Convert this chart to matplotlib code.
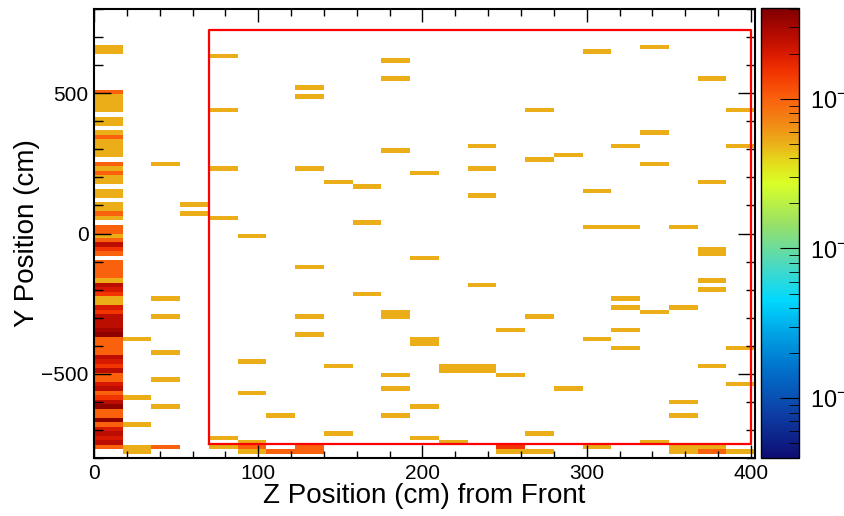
import numpy as np
import matplotlib
matplotlib.use("Agg")
import matplotlib.pyplot as plt
from matplotlib.colors import LogNorm, LinearSegmentedColormap
from matplotlib.ticker import MultipleLocator, LogLocator, FixedLocator

plt.rcParams['font.family'] = ['Liberation Sans', 'DejaVu Sans']
plt.rcParams['mathtext.default'] = 'regular'

# binning of the histogram
n_layers = 23
z_max = 402.5
n_ybins = 100
y_min, y_max = -800, 800
unit = 0.00505          # weight of a single hit
z_min_norm = 10 ** -4.4
fid_z = (70, 400)       # fiducial box
fid_y = (-750, 725)

# layer 0 (front): hit counts per y-bin, starting at the bottom bin
layer0_counts = [0, 0, 2, 5, 4, 5, 4, 2, 7, 2,
                 2, 7, 5, 3, 2, 5, 4, 2, 2, 5,
                 3, 4, 5, 2, 2, 2, 2, 7, 6, 5,
                 5, 5, 3, 4, 1, 1, 3, 4, 5, 1,
                 2, 2, 2, 2, 0, 2, 3, 5, 2, 1,
                 2, 2, 0, 1, 2, 1, 1, 0, 1, 1,
                 0, 1, 1, 2, 1, 2, 0, 1, 1, 1,
                 1, 2, 1, 0, 1, 1, 0, 1, 1, 1,
                 1, 2, 0, 0, 0, 0, 0, 0, 0, 0,
                 1, 1]

# other layers: layer index, y (cm), number of hits
hit_layer = [1, 1, 1, 1, 1,
             2, 2, 2, 2, 2, 2, 2,
             3, 3,
             4, 4, 4, 4, 4, 4,
             5, 5, 5, 5, 5, 5,
             6, 6,
             7, 7, 7, 7, 7, 7, 7, 7,
             8, 8, 8,
             9, 9, 9,
             10, 10, 10, 10, 10, 10, 10, 10,
             11, 11, 11, 11, 11, 11,
             12, 12, 12,
             13, 13, 13, 13, 13, 13,
             14, 14, 14, 14,
             15, 15, 15, 15, 15,
             16, 16,
             17, 17, 17, 17, 17,
             18, 18, 18, 18, 18, 18,
             19, 19, 19, 19, 19,
             20, 20, 20, 20, 20, 20,
             21, 21, 21, 21, 21, 21, 21, 21, 21,
             22, 22, 22, 22, 22]
hit_y = [-376, -584, -680, -760, -776,
         248, -232, -296, -424, -520, -616, -760,
         104, 72,
         632, 440, 232, 56, -728, -760,
         -8, -456, -568, -744, -760, -776,
         -648, -776,
         520, 488, 232, -120, -296, -360, -760, -776,
         184, -472, -712,
         168, 40, -216,
         616, 552, 296, -280, -296, -504, -552, -648,
         216, -88, -376, -392, -616, -728,
         -472, -488, -744,
         312, 232, 136, -184, -472, -488,
         -344, -504, -760, -776,
         440, 264, -296, -712, -776,
         280, -552,
         648, 152, 24, -376, -760,
         312, 24, -232, -264, -344, -408,
         664, 360, 248, -280, -744,
         24, -264, -600, -648, -760, -776,
         552, 184, -56, -72, -168, -200, -472, -760, -776,
         440, 312, -408, -536, -776]
hit_n = [1, 1, 1, 1, 1,
         1, 1, 1, 1, 1, 1, 2,
         1, 1,
         1, 1, 1, 1, 1, 1,
         1, 1, 1, 1, 2, 1,
         1, 2,
         1, 1, 1, 1, 1, 1, 2, 2,
         1, 1, 1,
         1, 1, 1,
         1, 1, 1, 1, 1, 1, 1, 1,
         1, 1, 1, 1, 1, 1,
         1, 1, 1,
         1, 1, 1, 1, 1, 1,
         1, 1, 3, 1,
         1, 1, 1, 1, 1,
         1, 1,
         1, 1, 1, 1, 1,
         1, 1, 1, 1, 1, 1,
         1, 1, 1, 1, 1,
         1, 1, 1, 1, 1, 1,
         1, 1, 1, 1, 1, 1, 1, 1, 2,
         1, 1, 1, 1, 1]

z_edges = np.linspace(0, z_max, n_layers + 1)
y_edges = np.linspace(y_min, y_max, n_ybins + 1)
z_cent = 0.5 * (z_edges[:-1] + z_edges[1:])
y_cent = 0.5 * (y_edges[:-1] + y_edges[1:])

# fill the histogram
zs = list(np.full(len(layer0_counts), z_cent[0])) + [z_cent[l] for l in hit_layer]
ys = list(y_cent[:len(layer0_counts)]) + hit_y
ws = list(np.array(layer0_counts) * unit) + list(np.array(hit_n) * unit)
H, _, _ = np.histogram2d(zs, ys, bins=[z_edges, y_edges], weights=ws)
H = np.ma.masked_where(H <= 0, H)

# ROOT-like rainbow palette
nodes = [0.0, 0.10, 0.20, 0.28, 0.35, 0.43, 0.52, 0.61, 0.66, 0.70,
         0.75, 0.80, 0.86, 0.90, 0.93, 0.96, 1.0]
cols = [(0.05, 0.05, 0.45), (0.05, 0.25, 0.65), (0.0, 0.45, 0.8),
        (0.0, 0.65, 0.9), (0.0, 0.85, 1.0), (0.3, 0.85, 0.75),
        (0.6, 0.88, 0.4), (0.85, 1.0, 0.15), (0.9, 0.85, 0.1),
        (0.92, 0.69, 0.1), (0.95, 0.52, 0.08), (0.98, 0.38, 0.05),
        (0.95, 0.2, 0.0), (0.85, 0.1, 0.0), (0.75, 0.06, 0.0),
        (0.65, 0.03, 0.0), (0.5, 0.0, 0.0)]
cmap = LinearSegmentedColormap.from_list('rootrainbow', list(zip(nodes, cols)))

fig = plt.figure(figsize=(8.44, 5.16), dpi=100)
ax = fig.add_axes([94 / 844, 1 - 458 / 516, 661 / 844, 449 / 516])
cax = fig.add_axes([761 / 844, 1 - 458 / 516, 38 / 844, 450 / 516])

mesh = ax.pcolormesh(z_edges, y_edges, H.T, cmap=cmap,
                     norm=LogNorm(vmin=z_min_norm, vmax=8 * unit))

ax.plot([fid_z[0], fid_z[1], fid_z[1], fid_z[0], fid_z[0]],
        [fid_y[0], fid_y[0], fid_y[1], fid_y[1], fid_y[0]],
        color='red', lw=1.6)

ax.set_xlim(0, z_max)
ax.set_ylim(y_min, y_max)
ax.xaxis.set_major_locator(MultipleLocator(100))
ax.xaxis.set_minor_locator(MultipleLocator(20))
ax.yaxis.set_major_locator(MultipleLocator(500))
ax.yaxis.set_minor_locator(MultipleLocator(100))
ax.tick_params(axis='both', which='both', direction='in', top=True, right=True,
               labelsize=15, width=1.0)
ax.tick_params(axis='x', which='major', length=9.5, pad=4)
ax.tick_params(axis='x', which='minor', length=5)
ax.tick_params(axis='y', which='major', length=12, pad=4)
ax.tick_params(axis='y', which='minor', length=6.5)
for sp in ax.spines.values():
    sp.set_linewidth(1.5)

ax.set_xlabel('Z Position (cm) from Front', fontsize=20, labelpad=0)
ax.set_ylabel('Y Position (cm)', fontsize=20, labelpad=1)

cb = fig.colorbar(mesh, cax=cax)
cb.outline.set_linewidth(1.0)
cax.yaxis.set_major_locator(FixedLocator([1e-4, 1e-3, 1e-2]))
cax.yaxis.set_minor_locator(LogLocator(base=10, subs=np.arange(2, 10)))
cax.set_yticklabels(['$10^{-4}$', '$10^{-3}$', '$10^{-2}$'])
cax.tick_params(which='both', direction='in', labelsize=17, pad=8)
cax.tick_params(which='major', length=14)
cax.tick_params(which='minor', length=7)

fig.savefig('out.png', dpi=100)
